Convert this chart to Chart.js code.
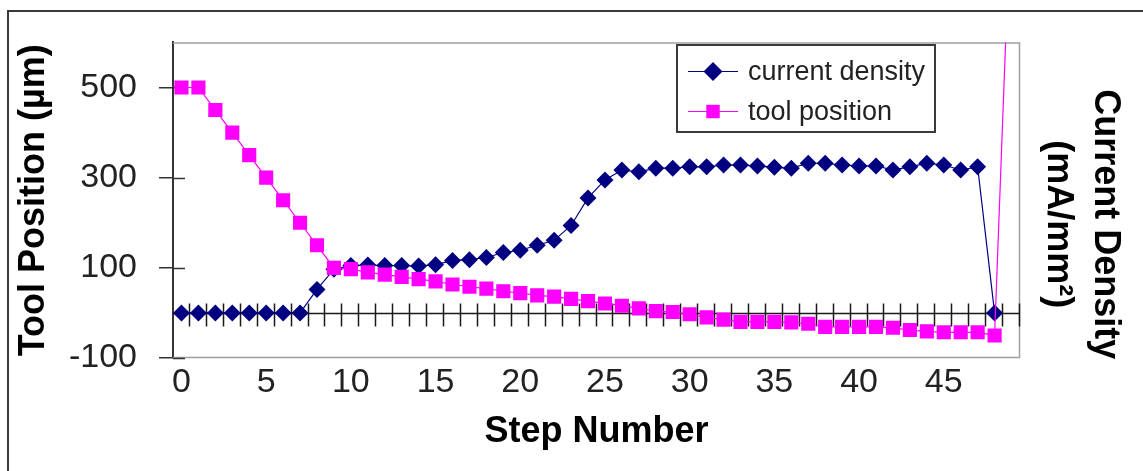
<!DOCTYPE html>
<html>
<head>
<meta charset="utf-8">
<script src="https://cdn.jsdelivr.net/npm/chart.js@4/dist/chart.umd.min.js"></script>
<style>
  html, body { margin: 0; padding: 0; background: #ffffff; }
  #wrap { position: relative; width: 1143px; height: 471px; }
</style>
</head>
<body>
<div id="wrap"><canvas id="c"></canvas></div>
<script>
// ---- data ----
const steps = ['0','1','2','3','4','5','6','7','8','9','10','11','12','13','14','15','16','17','18','19',
  '20','21','22','23','24','25','26','27','28','29','30','31','32','33','34','35','36','37','38','39',
  '40','41','42','43','44','45','46','47','48','49'];
const xTickLabels = ['0','5','10','15','20','25','30','35','40','45'];
const yTicks = [-100, 100, 300, 500];
const currentDensity = [0, 0, 0, 0, 0, 0, 0, 0, 52, 97,
  105, 106, 105, 105, 104, 107, 116, 118, 123, 134,
  139, 150, 161, 194, 255, 295, 317, 313, 321, 321,
  324, 324, 328, 328, 326, 323, 321, 332, 332, 328,
  326, 326, 317, 324, 332, 328, 317, 324, 0];
const toolPosition = [500, 500, 450, 400, 350, 300, 250, 200, 150, 100,
  97, 90, 85, 80, 75, 70, 63, 58, 54, 48,
  44, 39, 36, 31, 26, 21, 16, 10, 4, 2,
  -3, -10, -15, -20, -20, -20, -21, -24, -31, -31,
  -31, -31, -33, -38, -41, -43, -43, -43, -50, 950];
const seriesNames = ['current density', 'tool position'];
const yTitle = 'Tool Position (µm)';
const y2Title = ['Current Density', '(mA/mm²)'];
const xTitle = 'Step Number';

// ---- styling ----
const FONT = "'Liberation Sans', Arial, sans-serif";
const NAVY = '#000080';
const MAGENTA = '#ff00ff';

const framePlugin = {
  id: 'frame',
  beforeDraw(chart) {
    const ctx = chart.ctx;
    ctx.save();
    ctx.fillStyle = '#ffffff';
    ctx.fillRect(0, 0, chart.width, chart.height);
    ctx.strokeStyle = '#3a3a3a';
    ctx.lineWidth = 2;
    ctx.beginPath();
    ctx.moveTo(8, chart.height);
    ctx.lineTo(8, 11);
    ctx.lineTo(chart.width, 11);
    ctx.stroke();
    ctx.restore();
  },
  afterLayout(chart) {
    const s = chart.scales.y2;
    s.top += 24; s.bottom += 24;
  },
  beforeDatasetsDraw(chart) {
    const ctx = chart.ctx;
    const a = chart.chartArea;
    const xs = chart.scales.x, ys = chart.scales.y;
    ctx.save();
    // plot area border (top/right/bottom)
    ctx.strokeStyle = '#a0a0a0';
    ctx.lineWidth = 1.5;
    ctx.beginPath();
    ctx.moveTo(a.left, a.top + 0.5);
    ctx.lineTo(a.right - 0.5, a.top + 0.5);
    ctx.lineTo(a.right - 0.5, a.bottom - 0.5);
    ctx.lineTo(a.left, a.bottom - 0.5);
    ctx.stroke();
    // inner part of y ticks
    ctx.strokeStyle = '#333';
    ctx.lineWidth = 1.5;
    ctx.beginPath();
    yTicks.forEach(v => {
      const py = Math.round(ys.getPixelForValue(v)) + 0.5;
      ctx.moveTo(a.left, py);
      ctx.lineTo(a.left + 12, py);
    });
    ctx.stroke();
    // zero line with category separator ticks
    const y0 = Math.round(ys.getPixelForValue(0)) + 0.5;
    ctx.strokeStyle = '#1a1a1a';
    ctx.lineWidth = 1.5;
    ctx.beginPath();
    ctx.moveTo(a.left, y0);
    ctx.lineTo(a.right, y0);
    for (let i = 0; i < steps.length; i++) {
      const px = Math.round(xs.getPixelForValue(i + 0.5)) - 0.5;
      ctx.moveTo(px, y0 - 10);
      ctx.lineTo(px, y0 + 13);
    }
    ctx.stroke();
    ctx.restore();
  },
  afterDraw(chart) {
    const ctx = chart.ctx;
    ctx.save();
    const bx = 677, by = 45, bw = 258, bh = 87;
    ctx.fillStyle = '#ffffff';
    ctx.fillRect(bx, by, bw, bh);
    ctx.strokeStyle = '#3a3a3a';
    ctx.lineWidth = 2;
    ctx.strokeRect(bx, by, bw, bh);
    chart.data.datasets.forEach((ds, i) => {
      const cy = 71.5 + i * 40;
      ctx.strokeStyle = ds.borderColor;
      ctx.lineWidth = 1.2;
      ctx.beginPath();
      ctx.moveTo(688, cy);
      ctx.lineTo(738, cy);
      ctx.stroke();
      ctx.fillStyle = ds.backgroundColor;
      Chart.helpers.drawPoint(ctx, {pointStyle: ds.pointStyle, radius: 9.5, rotation: 0, borderWidth: 0}, 713, cy);
      ctx.fillStyle = '#222';
      ctx.font = '27px ' + FONT;
      ctx.textBaseline = 'middle';
      ctx.textAlign = 'left';
      ctx.fillText(ds.label, 748, cy + 1);
    });
    ctx.restore();
  }
};

new Chart(document.getElementById('c'), {
  type: 'line',
  data: {
    labels: steps,
    datasets: [
      {
        label: seriesNames[0],
        data: currentDensity,
        borderColor: NAVY,
        backgroundColor: NAVY,
        borderWidth: 1.2,
        pointStyle: 'rectRot',
        pointRadius: 8.5,
        pointBorderWidth: 0,
        pointHoverRadius: 8.5,
        tension: 0,
        order: 1,
        clip: {left: 12, right: 12, top: 0, bottom: 12}
      },
      {
        label: seriesNames[1],
        data: toolPosition,
        borderColor: MAGENTA,
        backgroundColor: MAGENTA,
        borderWidth: 1.2,
        pointStyle: 'rect',
        pointRadius: 10,
        pointBorderWidth: 0,
        pointHoverRadius: 10,
        tension: 0,
        order: 0,
        clip: {left: 12, right: 12, top: 0, bottom: 12}
      }
    ]
  },
  options: {
    responsive: true,
    maintainAspectRatio: false,
    animation: false,
    devicePixelRatio: 1,
    layout: { padding: { top: 38, left: 0, right: 0, bottom: 0 } },
    plugins: {
      legend: { display: false },
      tooltip: { enabled: false }
    },
    events: [],
    scales: {
      x: {
        type: 'category',
        offset: true,
        grid: { display: false },
        border: { display: false },
        ticks: {
          autoSkip: false,
          maxRotation: 0,
          padding: 0,
          color: '#222',
          font: { family: FONT, size: 34, lineHeight: 1.0 },
          callback: function (val, i) {
            const lab = this.getLabelForValue(val);
            return xTickLabels.includes(lab) ? lab : null;
          }
        },
        title: {
          display: true,
          text: xTitle,
          color: '#000',
          font: { family: FONT, size: 36, weight: 'bold', lineHeight: 1.2 },
          padding: { top: 0, bottom: 17 }
        },
        afterFit: s => { s.height = 113; }
      },
      y: {
        type: 'linear',
        position: 'left',
        min: -100,
        max: 600,
        afterBuildTicks: s => { s.ticks = yTicks.map(v => ({ value: v })); },
        grid: { display: true, drawOnChartArea: false, drawTicks: true, tickLength: 14, color: '#333', lineWidth: 1.5 },
        border: { display: true, color: '#333', width: 2 },
        ticks: {
          padding: 22,
          color: '#222',
          font: { family: FONT, size: 34 }
        },
        title: {
          display: true,
          text: yTitle,
          color: '#000',
          font: { family: FONT, size: 36, weight: 'bold', lineHeight: 1.2 },
          padding: { top: 12, bottom: 0 }
        },
        afterFit: s => { s.width = 173; }
      },
      y2: {
        type: 'linear',
        position: 'right',
        display: true,
        min: -100,
        max: 600,
        grid: { display: false },
        border: { display: false },
        ticks: { display: false },
        title: {
          display: true,
          text: y2Title,
          color: '#000',
          font: { family: FONT, size: 36, weight: 'bold', lineHeight: 1.3 },
          padding: { top: 15, bottom: 0 }
        },
        afterFit: s => { s.width = 123; }
      }
    }
  },
  plugins: [framePlugin]
});
</script>
</body>
</html>
